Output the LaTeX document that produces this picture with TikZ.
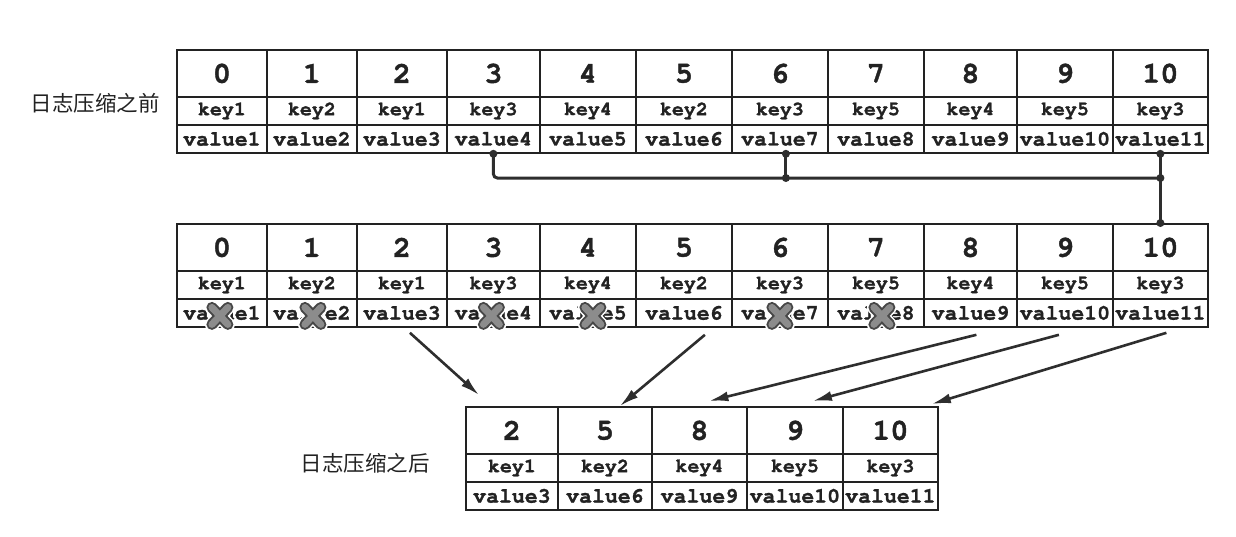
\documentclass[tikz,border=0pt]{standalone}
\usepackage{fontspec}
\newfontfamily\mono[BoldFeatures={FakeBold=1.2}]{TeX Gyre Cursor}
\newfontfamily\cjk{Noto Sans CJK SC}
\usetikzlibrary{arrows.meta,calc}
\definecolor{ink}{HTML}{222222}
\definecolor{conn}{HTML}{2E2E2E}
\definecolor{xfill}{HTML}{8C8C8C}
\definecolor{xedge}{HTML}{474747}
\tikzset{
  cell/.style={draw=ink, line width=1.8pt, inner sep=0pt, anchor=north west, text=ink},
  hcell/.style={cell, minimum height=47pt, font=\mono\bfseries\fontsize{30}{32}\selectfont},
  kcell/.style={cell, minimum height=28pt, font=\mono\bfseries\fontsize{20}{21}\selectfont},
  vcell/.style={cell, minimum height=28pt, font=\mono\bfseries\fontsize{21.5}{22}\selectfont},
  link/.style={draw=conn, line width=3pt},
  arr/.style={draw=conn, line width=2.6pt, -{Latex[length=19pt,width=10pt]}},
  lbl/.style={text=ink, font=\cjk\fontsize{21.5}{22}\selectfont, inner sep=0pt},
  crossmark/.pic={
    \foreach \w/\c in {14/white, 11/xedge, 7/xfill}{
      \draw[line width=\w pt, color=\c, line cap=round] (-8,-8.5) -- (8,8.5) (-8,8.5) -- (8,-8.5);
    }
  }
}
\begin{document}
\begin{tikzpicture}[x=1pt, y=-1pt]
\useasboundingbox[fill=white] (0,0) rectangle (1236,536);

% labels
\node[lbl] (before) at (95,103) {日志压缩之前};
\node[lbl] (after) at (365,463) {日志压缩之后};

% top and middle tables
\foreach \a/\b/\n/\k/\v [count=\i from 0] in {
  176/266/0/key1/value1, 266/356/1/key2/value2, 356/446/2/key1/value3,
  446/539/3/key3/value4, 539/635/4/key4/value5, 635/731/5/key2/value6,
  731/827/6/key3/value7, 827/923/7/key5/value8, 923/1016/8/key4/value9,
  1016/1112/9/key5/value10, 1112/1207/10/key3/value11}{
  \node[hcell, minimum width={(\b-\a)*1pt}] (t-h-\i) at (\a,49) {\n};
  \node[kcell, minimum width={(\b-\a)*1pt}] (t-k-\i) at (\a,96) {\k};
  \node[vcell, minimum width={(\b-\a)*1pt}] (t-v-\i) at (\a,124) {\v};
  \node[hcell, minimum width={(\b-\a)*1pt}] (m-h-\i) at (\a,223) {\n};
  \node[kcell, minimum width={(\b-\a)*1pt}] (m-k-\i) at (\a,270) {\k};
  \node[vcell, minimum width={(\b-\a)*1pt}] (m-v-\i) at (\a,298) {\v};
}

% bottom table
\foreach \a/\b/\n/\k/\v [count=\i from 0] in {
  465/557/2/key1/value3, 557/651/5/key2/value6, 651/746/8/key4/value9,
  746/842/9/key5/value10, 842/937/10/key3/value11}{
  \node[hcell, minimum width={(\b-\a)*1pt}] (b-h-\i) at (\a,406) {\n};
  \node[kcell, minimum width={(\b-\a)*1pt}] (b-k-\i) at (\a,453) {\k};
  \node[vcell, minimum width={(\b-\a)*1pt}] (b-v-\i) at (\a,481) {\v};
}

% cross marks on removed entries
\foreach \i/\dx in {0/-2, 1/1, 3/-2, 4/5, 6/0, 7/6}{
  \pic at ([shift={(\dx,3)}]m-v-\i.center) {crossmark};
}

% connector between same keys
\coordinate (hline) at (0,178);
\coordinate (jL) at (t-v-3.south |- hline);
\coordinate (jM) at ([xshift=6pt]t-v-6.south |- hline);
\coordinate (jR) at (t-v-10.south |- hline);
\draw[link, rounded corners=4pt] (t-v-3.south) -- (jL) -- (jR);
\draw[link] ([xshift=6pt]t-v-6.south) -- (jM);
\draw[link] (t-v-10.south) -- (m-h-10.north);
\foreach \p in {t-v-3.south, jM, jR, t-v-10.south, m-h-10.north}{
  \fill[conn] (\p) circle (4pt);
}
\fill[conn] ([xshift=6pt]t-v-6.south) circle (4pt);

% arrows to compacted log
\coordinate (tip1) at ([shift={(14,-11)}]b-h-0.north west);
\coordinate (tip2) at ([shift={(15,0)}]b-h-1.north);
\coordinate (tip3) at ([shift={(10,-5)}]b-h-2.north);
\coordinate (tip4) at ([shift={(18,-5)}]b-h-3.north);
\coordinate (tip5) at ([shift={(-7,-2)}]b-h-4.north east);
\draw[arr] ([shift={(8,5)}]m-v-2.south) -- (tip1);
\draw[arr] ([shift={(21,7)}]m-v-5.south) -- (tip2);
\draw[arr] ([shift={(6,7)}]m-v-8.south) -- (tip3);
\draw[arr] ([shift={(-6,7)}]m-v-9.south) -- (tip4);
\draw[arr] ([shift={(6,5)}]m-v-10.south) -- (tip5);
\end{tikzpicture}
\end{document}
